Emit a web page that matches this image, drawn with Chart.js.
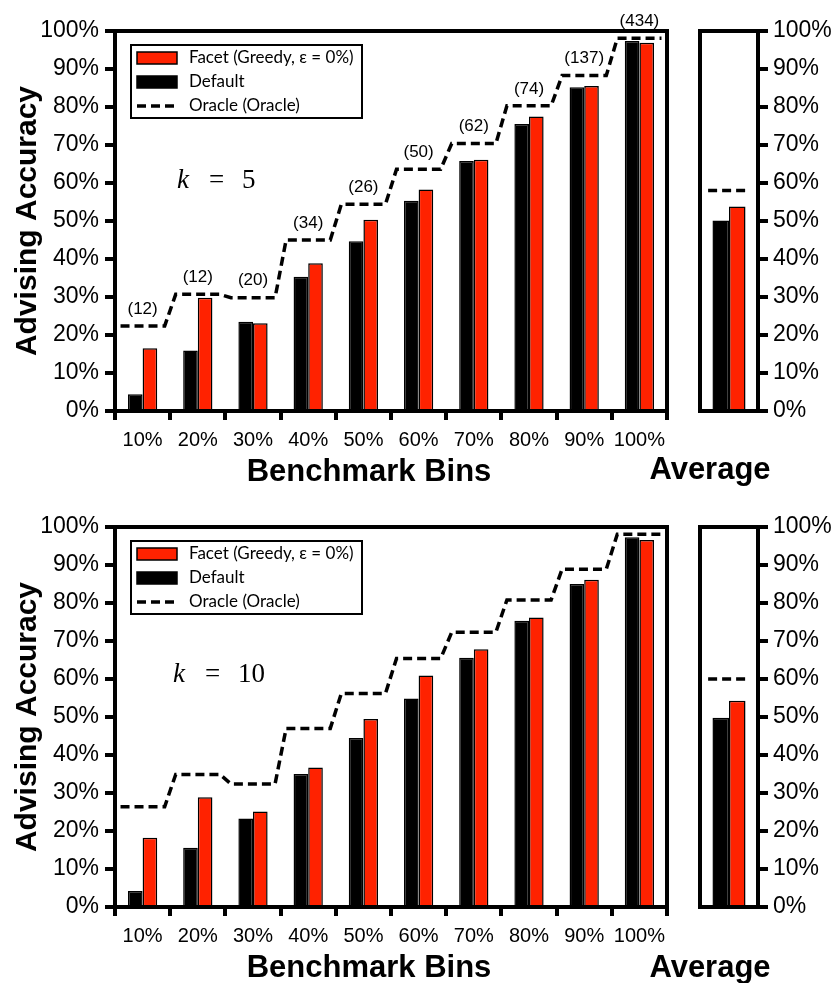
<!DOCTYPE html>
<html>
<head>
<meta charset="utf-8">
<title>Advising Accuracy by Benchmark Bin</title>
<script src="https://cdn.jsdelivr.net/npm/chart.js@4.4.1/dist/chart.umd.min.js"></script>
<style>
  html, body { margin: 0; padding: 0; background: #fff; }
  #figure { position: relative; width: 835px; height: 983px; overflow: hidden; }
  #figure canvas { position: absolute; }
</style>
</head>
<body>
<div id="figure">
  <canvas id="binsK5" width="690" height="495" style="left:0;top:0"></canvas>
  <canvas id="avgK5" width="195" height="495" style="left:640px;top:0"></canvas>
  <canvas id="binsK10" width="690" height="488" style="left:0;top:495px"></canvas>
  <canvas id="avgK10" width="195" height="488" style="left:640px;top:495px"></canvas>
</div>
<script>
// Benchmark bins on the x axis and number of benchmarks per bin
const binLabels = ['10%', '20%', '30%', '40%', '50%', '60%', '70%', '80%', '90%', '100%'];
const binSizes = [12, 12, 20, 34, 26, 50, 62, 74, 137, 434];
const percentTicks = [0, 10, 20, 30, 40, 50, 60, 70, 80, 90, 100];

// Series names, in dataset order
const seriesNames = ['Default', 'Facet (Greedy, \u03b5 = 0%)', 'Oracle (Oracle)'];

// k = 5 accuracy (%) per bin
const k5Default = [4.4, 15.9, 23.5, 35.3, 44.7, 55.3, 65.8, 75.5, 85.2, 97.4];
const k5Facet   = [16.5, 29.8, 23.1, 38.9, 50.3, 58.3, 66.1, 77.5, 85.5, 96.9];
const k5Oracle  = [22.4, 30.7, 29.8, 45.0, 54.4, 63.6, 70.4, 80.3, 88.3, 98.1];
// k = 5 averages: Default, Facet, Oracle
const k5Average = [50.1, 53.8, 58.0];

// k = 10 accuracy (%) per bin
const k10Default = [4.2, 15.6, 23.3, 35.0, 44.5, 54.9, 65.6, 75.3, 85.0, 97.3];
const k10Facet   = [18.2, 28.9, 25.1, 36.7, 49.5, 60.9, 67.8, 76.2, 86.1, 96.6];
const k10Oracle  = [26.4, 34.9, 32.4, 47.0, 56.2, 65.4, 72.3, 80.8, 88.9, 98.1];
// k = 10 averages: Default, Facet, Oracle
const k10Average = [49.8, 54.3, 60.0];

const INK = '#000000';
const RED = '#ff2200';
const SANS = '"Liberation Sans", Arial, Helvetica, sans-serif';
const SERIF = '"Liberation Serif", "DejaVu Serif", serif';

// Bin i sits at x = i on a linear axis running from -0.5 to n - 0.5
const atBins = values => values.map((v, i) => ({ x: i, y: v }));

// Oracle is drawn as a step: a flat run across each bin, sloped between bins
function oracleSteps(values, half) {
  return values.flatMap((v, i) => [{ x: i - half, y: v }, { x: i + half, y: v }]);
}

// Heavy box around the plotting area
const framePlugin = {
  id: 'frame',
  afterDraw(chart) {
    const { ctx, chartArea: a } = chart;
    ctx.save();
    ctx.lineWidth = 4;
    ctx.strokeStyle = INK;
    ctx.strokeRect(a.left, a.top, a.right - a.left, a.bottom - a.top);
    ctx.restore();
  }
};

// Boxed legend in the upper-left corner of the plot
function boxLegend(order) {
  return {
    id: 'boxLegend',
    afterDraw(chart) {
      const { ctx, chartArea: a } = chart;
      const x0 = a.left + 16, y0 = a.top + 14, w = 231, h = 73;
      ctx.save();
      ctx.fillStyle = '#fff';
      ctx.fillRect(x0, y0, w, h);
      ctx.lineWidth = 2;
      ctx.strokeStyle = INK;
      ctx.strokeRect(x0, y0, w, h);
      ctx.font = '17px Lato, "Open Sans", sans-serif';
      ctx.textBaseline = 'middle';
      ctx.textAlign = 'left';
      order.forEach((di, row) => {
        const ds = chart.data.datasets[di];
        const cy = y0 + 13 + row * 24;
        const sx = x0 + 6;
        ctx.strokeStyle = INK;
        if (ds.type === 'line') {
          ctx.lineWidth = ds.borderWidth;
          ctx.setLineDash(ds.borderDash);
          ctx.beginPath();
          ctx.moveTo(sx, cy);
          ctx.lineTo(sx + 40, cy);
          ctx.stroke();
          ctx.setLineDash([]);
        } else {
          ctx.fillStyle = ds.backgroundColor;
          ctx.fillRect(sx, cy - 6, 40, 12);
          ctx.lineWidth = 1.5;
          ctx.strokeRect(sx, cy - 6, 40, 12);
        }
        ctx.fillStyle = INK;
        ctx.fillText(ds.label, x0 + 58, cy);
      });
      ctx.restore();
    }
  };
}

// Free text: k label, bin counts over the oracle step, axis caption
function notes(cfg) {
  return {
    id: 'notes',
    afterDraw(chart) {
      const { ctx, chartArea: a } = chart;
      ctx.save();
      ctx.fillStyle = INK;
      if (cfg.k) {
        ctx.textBaseline = 'alphabetic';
        ctx.textAlign = 'left';
        const bx = a.left + cfg.k.dx, by = a.top + cfg.k.dy;
        ctx.font = 'italic 27px ' + SERIF;
        ctx.fillText('k', bx, by);
        ctx.font = '27px ' + SERIF;
        ctx.fillText('=', bx + 32, by);
        ctx.fillText(cfg.k.value, bx + 65, by);
      }
      if (cfg.counts) {
        const xs = chart.scales.x, ys = chart.scales.y;
        ctx.font = '17px ' + SANS;
        ctx.textAlign = 'center';
        ctx.textBaseline = 'middle';
        cfg.counts.forEach((n, i) => {
          ctx.fillText('(' + n + ')', xs.getPixelForValue(i), ys.getPixelForValue(cfg.oracle[i]) - 17);
        });
      }
      if (cfg.caption) {
        ctx.font = 'bold 31px ' + SANS;
        ctx.textAlign = 'center';
        ctx.textBaseline = 'alphabetic';
        ctx.fillText(cfg.caption.text, cfg.caption.x, a.bottom + cfg.caption.dy);
      }
      ctx.restore();
    }
  };
}

function percentAxis(side) {
  return {
    min: 0, max: 100,
    position: side,
    afterBuildTicks(scale) { scale.ticks = percentTicks.map(v => ({ value: v })); },
    ticks: {
      callback: v => v + '%',
      color: INK,
      font: { family: SANS, size: 23 },
      padding: 6
    },
    grid: { drawOnChartArea: false, drawTicks: true, tickLength: 10, lineWidth: 4, color: INK },
    border: { width: 4, color: INK }
  };
}

// Two side-by-side bars per bin plus the dashed oracle step, all on the same x axis
function seriesSets(def, fac, ora, widthShare, half) {
  const bar = (label, data, fill) => ({
    type: 'bar', label, data: atBins(data),
    backgroundColor: fill, borderColor: INK, borderWidth: 1.5,
    categoryPercentage: widthShare, barPercentage: 1
  });
  return [
    bar(seriesNames[0], def, INK),
    bar(seriesNames[1], fac, RED),
    { type: 'line', label: seriesNames[2], data: oracleSteps(ora, half),
      borderColor: INK, borderWidth: 3.5, borderDash: [9, 5], pointRadius: 0, fill: false, tension: 0 }
  ];
}

function binsChart(id, def, fac, ora, row) {
  const canvas = document.getElementById(id);
  const yAxis = percentAxis('left');
  yAxis.title = {
    display: true, text: 'Advising Accuracy', color: INK,
    font: { family: SANS, size: 30, weight: 'bold' },
    padding: { top: 10, bottom: 0 }
  };
  yAxis.afterFit = s => { s.width = 115; };
  return new Chart(canvas, {
    type: 'bar',
    data: { datasets: seriesSets(def, fac, ora, 0.53, 0.4) },
    options: {
      responsive: false, animation: false, devicePixelRatio: 1,
      layout: { padding: { top: row.top, right: canvas.width - 667, left: 0, bottom: 0 } },
      plugins: { legend: { display: false }, tooltip: { enabled: false } },
      scales: {
        x: {
          type: 'linear', min: -0.5, max: binLabels.length - 0.5, offset: false,
          afterBuildTicks(scale) { scale.ticks = binLabels.map((_, i) => ({ value: i })); },
          grid: { offset: true, drawOnChartArea: false, tickLength: 9, lineWidth: 4, color: INK },
          border: { width: 4, color: INK },
          ticks: {
            callback: v => binLabels[v],
            color: INK, font: { family: SANS, size: 20 }, padding: 8, maxRotation: 0, autoSkip: false
          },
          afterFit(s) { s.height = canvas.height - row.bottom; }
        },
        y: yAxis
      }
    },
    plugins: [framePlugin, boxLegend([1, 0, 2]), notes({
      k: row.k,
      counts: row.counts,
      oracle: ora,
      caption: { text: 'Benchmark Bins', x: 369, dy: row.captionDy }
    })]
  });
}

function averageChart(id, avg, row) {
  const canvas = document.getElementById(id);
  const yAxis = percentAxis('right');
  yAxis.ticks.padding = 5;
  yAxis.afterFit = s => { s.width = canvas.width - 118; };
  return new Chart(canvas, {
    type: 'bar',
    data: { datasets: seriesSets([avg[0]], [avg[1]], [avg[2]], 0.57, 0.36) },
    options: {
      responsive: false, animation: false, devicePixelRatio: 1,
      layout: { padding: { top: row.top, right: 0, left: 60, bottom: canvas.height - row.bottom } },
      plugins: { legend: { display: false }, tooltip: { enabled: false } },
      scales: {
        x: {
          type: 'linear', min: -0.5, max: 0.5, offset: false, display: false,
          afterBuildTicks(scale) { scale.ticks = [{ value: 0 }]; }
        },
        y: yAxis
      }
    },
    plugins: [framePlugin, notes({ caption: { text: 'Average', x: 70, dy: row.captionDy } })]
  });
}

binsChart('binsK5', k5Default, k5Facet, k5Oracle,
  { top: 31, bottom: 411, captionDy: 70, counts: binSizes, k: { dx: 62, dy: 157, value: '5' } });
averageChart('avgK5', k5Average, { top: 31, bottom: 411, captionDy: 68 });

binsChart('binsK10', k10Default, k10Facet, k10Oracle,
  { top: 32, bottom: 412, captionDy: 70, counts: null, k: { dx: 58, dy: 155, value: '10' } });
averageChart('avgK10', k10Average, { top: 32, bottom: 412, captionDy: 70 });
</script>
</body>
</html>
